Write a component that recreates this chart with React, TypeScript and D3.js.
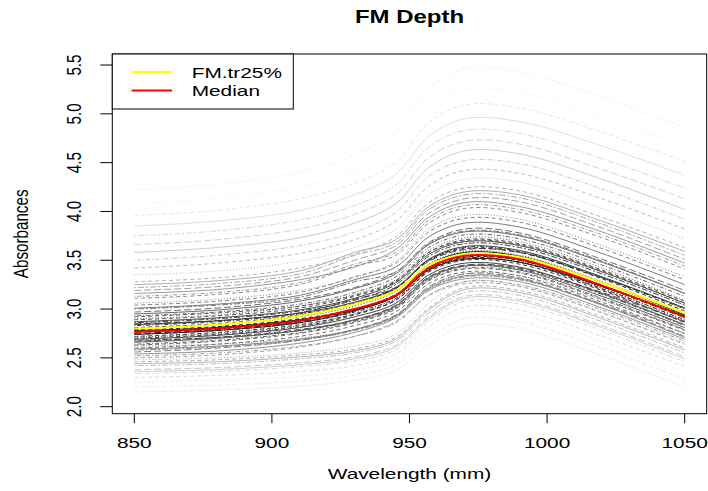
import React from 'react';
import * as d3 from 'd3';

// Wavelengths (nm) at which each absorbance curve was read
const wavelengths = [850, 880, 910, 930, 945, 957, 970, 990, 1020, 1050];

// Absorbance curves
const absorbanceCurves: number[][] = [
  [2.15, 2.17, 2.21, 2.27, 2.37, 2.64, 2.83, 2.80, 2.52, 2.20],
  [2.20, 2.22, 2.26, 2.32, 2.43, 2.70, 2.90, 2.87, 2.60, 2.28],
  [2.25, 2.27, 2.31, 2.37, 2.49, 2.77, 2.97, 2.94, 2.67, 2.35],
  [2.30, 2.32, 2.36, 2.42, 2.54, 2.82, 3.02, 2.99, 2.72, 2.41],
  [2.34, 2.36, 2.41, 2.47, 2.58, 2.87, 3.08, 3.05, 2.78, 2.46],
  [2.36, 2.38, 2.43, 2.49, 2.61, 2.90, 3.11, 3.08, 2.81, 2.49],
  [2.38, 2.40, 2.45, 2.51, 2.63, 2.92, 3.13, 3.10, 2.83, 2.51],
  [2.42, 2.44, 2.49, 2.55, 2.67, 2.96, 3.17, 3.14, 2.87, 2.55],
  [2.44, 2.46, 2.51, 2.57, 2.69, 2.99, 3.20, 3.17, 2.90, 2.58],
  [2.46, 2.48, 2.53, 2.59, 2.71, 3.01, 3.22, 3.19, 2.92, 2.60],
  [2.48, 2.50, 2.55, 2.62, 2.74, 3.06, 3.28, 3.24, 2.97, 2.65],
  [2.50, 2.53, 2.61, 2.72, 2.87, 3.14, 3.26, 3.23, 2.96, 2.64],
  [2.52, 2.55, 2.62, 2.72, 2.86, 3.14, 3.28, 3.25, 2.99, 2.67],
  [2.54, 2.57, 2.65, 2.76, 2.91, 3.19, 3.31, 3.28, 3.01, 2.69],
  [2.56, 2.60, 2.68, 2.79, 2.94, 3.23, 3.36, 3.32, 3.05, 2.72],
  [2.58, 2.61, 2.68, 2.78, 2.92, 3.20, 3.33, 3.30, 3.05, 2.75],
  [2.59, 2.62, 2.69, 2.79, 2.93, 3.21, 3.34, 3.31, 3.04, 2.71],
  [2.60, 2.64, 2.72, 2.83, 2.97, 3.26, 3.38, 3.34, 3.07, 2.75],
  [2.62, 2.64, 2.70, 2.79, 2.93, 3.22, 3.36, 3.34, 3.09, 2.79],
  [2.63, 2.67, 2.75, 2.86, 3.00, 3.29, 3.41, 3.37, 3.10, 2.78],
  [2.64, 2.68, 2.76, 2.87, 3.01, 3.30, 3.42, 3.38, 3.11, 2.79],
  [2.66, 2.70, 2.78, 2.89, 3.03, 3.32, 3.44, 3.40, 3.13, 2.81],
  [2.67, 2.71, 2.79, 2.89, 3.04, 3.33, 3.45, 3.42, 3.17, 2.87],
  [2.68, 2.71, 2.78, 2.88, 3.02, 3.31, 3.44, 3.41, 3.15, 2.83],
  [2.69, 2.73, 2.81, 2.92, 3.06, 3.35, 3.47, 3.43, 3.16, 2.84],
  [2.70, 2.74, 2.82, 2.94, 3.09, 3.39, 3.52, 3.48, 3.20, 2.86],
  [2.71, 2.75, 2.83, 2.95, 3.10, 3.41, 3.54, 3.50, 3.22, 2.88],
  [2.72, 2.76, 2.84, 2.95, 3.09, 3.38, 3.50, 3.46, 3.19, 2.87],
  [2.74, 2.78, 2.86, 2.97, 3.11, 3.40, 3.52, 3.48, 3.21, 2.89],
  [2.74, 2.78, 2.86, 2.98, 3.14, 3.45, 3.58, 3.54, 3.27, 2.94],
  [2.75, 2.79, 2.87, 2.99, 3.13, 3.42, 3.54, 3.50, 3.23, 2.91],
  [2.77, 2.81, 2.89, 3.00, 3.14, 3.43, 3.55, 3.51, 3.24, 2.92],
  [2.78, 2.81, 2.89, 2.99, 3.13, 3.40, 3.51, 3.48, 3.23, 2.93],
  [2.79, 2.82, 2.90, 3.00, 3.15, 3.41, 3.53, 3.50, 3.24, 2.93],
  [2.80, 2.84, 2.92, 3.03, 3.18, 3.46, 3.59, 3.55, 3.28, 2.96],
  [2.81, 2.85, 2.94, 3.06, 3.21, 3.50, 3.62, 3.58, 3.31, 2.98],
  [2.83, 2.87, 2.95, 3.06, 3.21, 3.50, 3.63, 3.59, 3.32, 3.00],
  [2.84, 2.88, 2.96, 3.07, 3.22, 3.51, 3.64, 3.60, 3.33, 3.01],
  [2.85, 2.88, 2.96, 3.10, 3.22, 3.49, 3.61, 3.58, 3.32, 3.01],
  [2.86, 2.90, 2.98, 3.09, 3.25, 3.54, 3.67, 3.63, 3.36, 3.04],
  [2.87, 2.91, 2.99, 3.11, 3.27, 3.56, 3.69, 3.65, 3.38, 3.06],
  [2.89, 2.93, 3.01, 3.13, 3.28, 3.58, 3.71, 3.67, 3.40, 3.08],
  [2.90, 2.94, 3.03, 3.15, 3.30, 3.60, 3.73, 3.69, 3.42, 3.09],
  [2.92, 2.96, 3.03, 3.14, 3.29, 3.58, 3.70, 3.66, 3.39, 3.06],
  [2.93, 2.97, 3.05, 3.17, 3.33, 3.63, 3.76, 3.72, 3.45, 3.13],
  [2.95, 2.99, 3.08, 3.21, 3.36, 3.66, 3.79, 3.75, 3.48, 3.16],
  [2.97, 3.01, 3.10, 3.22, 3.38, 3.68, 3.82, 3.78, 3.51, 3.19],
  [3.00, 3.04, 3.12, 3.28, 3.38, 3.67, 3.80, 3.76, 3.49, 3.16],
  [3.01, 3.05, 3.14, 3.30, 3.43, 3.74, 3.88, 3.84, 3.57, 3.25],
  [3.04, 3.08, 3.17, 3.33, 3.47, 3.79, 3.93, 3.89, 3.62, 3.30],
  [3.06, 3.10, 3.19, 3.32, 3.49, 3.82, 3.96, 3.92, 3.65, 3.33],
  [3.11, 3.15, 3.25, 3.44, 3.55, 3.88, 4.03, 3.99, 3.73, 3.41],
  [3.13, 3.17, 3.27, 3.46, 3.58, 3.91, 4.06, 4.02, 3.76, 3.44],
  [3.16, 3.20, 3.30, 3.43, 3.61, 3.94, 4.09, 4.05, 3.79, 3.47],
  [3.19, 3.23, 3.33, 3.50, 3.65, 3.98, 4.13, 4.10, 3.83, 3.51],
  [3.22, 3.26, 3.36, 3.55, 3.68, 4.02, 4.17, 4.14, 3.87, 3.55],
  [3.25, 3.29, 3.39, 3.58, 3.71, 4.05, 4.20, 4.17, 3.90, 3.59],
  [3.28, 3.32, 3.42, 3.56, 3.74, 4.09, 4.24, 4.21, 3.94, 3.63],
  [3.35, 3.39, 3.49, 3.63, 3.82, 4.17, 4.33, 4.30, 4.03, 3.72],
  [3.42, 3.47, 3.57, 3.71, 3.90, 4.26, 4.42, 4.39, 4.13, 3.82],
  [3.50, 3.55, 3.65, 3.79, 3.99, 4.36, 4.52, 4.49, 4.23, 3.92],
  [3.58, 3.63, 3.73, 3.88, 4.08, 4.45, 4.62, 4.59, 4.33, 4.02],
  [3.66, 3.71, 3.82, 3.97, 4.17, 4.55, 4.72, 4.69, 4.43, 4.13],
  [3.75, 3.80, 3.91, 4.06, 4.27, 4.66, 4.83, 4.80, 4.54, 4.24],
  [3.85, 3.90, 4.01, 4.17, 4.38, 4.77, 4.95, 4.92, 4.67, 4.37],
  [3.96, 4.01, 4.13, 4.29, 4.50, 4.91, 5.09, 5.06, 4.81, 4.51],
  [4.08, 4.13, 4.25, 4.42, 4.64, 5.06, 5.25, 5.22, 4.97, 4.67],
  [4.22, 4.28, 4.40, 4.58, 4.82, 5.26, 5.46, 5.43, 5.17, 4.86],
];

const trimmedMean25 = [2.80, 2.84, 2.93, 3.05, 3.19, 3.45, 3.56, 3.53, 3.27, 2.96];
const medianCurve = [2.765, 2.80, 2.88, 3.00, 3.14, 3.42, 3.545, 3.51, 3.24, 2.92];

const xTicks = [850, 900, 950, 1000, 1050];
const yTicks = [2.0, 2.5, 3.0, 3.5, 4.0, 4.5, 5.0, 5.5];
const legendLabels = ['FM.tr25%', 'Median'];
const legendColors = ['#ffff00', '#ff0000'];

const SX = 1.37;
const FONT = "'Liberation Sans', Arial, Helvetica, sans-serif";
const DASHES = ['', '4,3', '1,2', '4,3', '1,2,4,2', '', '7,3', '2,2,6,2'];

function Txt(props: { x: number; y: number; rot?: boolean; anchor?: string; size: number; weight?: string; children: React.ReactNode }) {
  const { x, y, rot, anchor = 'middle', size, weight = 'normal', children } = props;
  return (
    <text
      transform={`translate(${x},${y}) scale(${SX},1)${rot ? ' rotate(-90)' : ''}`}
      textAnchor={anchor}
      fontSize={size}
      fontWeight={weight}
      fontFamily={FONT}
      fill="#000"
    >
      {children}
    </text>
  );
}

export default function App() {
  const left = 112.3, right = 706.7, top = 54, bottom = 413.7;
  const x = d3.scaleLinear().domain([842, 1058]).range([left, right]);
  const y = d3.scaleLinear().domain([1.928, 5.613]).range([bottom, top]);
  const line = d3
    .line<number>()
    .x((_, i) => x(wavelengths[i]))
    .y((d) => y(d))
    .curve(d3.curveCatmullRom.alpha(0.5));

  const n = absorbanceCurves.length;
  const means = absorbanceCurves.map((c) => d3.mean(c) as number);
  const sortedIdx = d3.range(n).sort((a, b) => means[a] - means[b]);
  const rank: number[] = new Array(n);
  sortedIdx.forEach((idx, r) => (rank[idx] = r));
  const mid = sortedIdx.indexOf(31);
  const depth = rank.map((r) => (r <= mid ? r / mid : (n - 1 - r) / (n - 1 - mid)));
  const drawOrder = d3.range(n).sort((a, b) => depth[a] - depth[b]);

  return (
    <div style={{ position: 'absolute', left: 0, top: 0 }}>
      <svg width={708} height={491} style={{ display: 'block', background: '#fff' }}>
        <rect x={0} y={0} width={708} height={491} fill="#fff" />
        {drawOrder.map((i) => {
          const g = Math.round(255 * (0.95 - 0.88 * depth[i]));
          return (
            <path
              key={i}
              d={line(absorbanceCurves[i]) || ''}
              fill="none"
              stroke={`rgb(${g},${g},${g})`}
              strokeWidth={1}
              strokeDasharray={DASHES[i % DASHES.length]}
            />
          );
        })}
        <path d={line(trimmedMean25) || ''} fill="none" stroke={legendColors[0]} strokeWidth={2} />
        <path d={line(medianCurve) || ''} fill="none" stroke={legendColors[1]} strokeWidth={2} />

        {/* box */}
        <rect x={left} y={top} width={right - left} height={bottom - top} fill="none" stroke="#000" strokeWidth={1} />

        {/* x axis */}
        {xTicks.map((t) => (
          <g key={t}>
            <line x1={x(t)} x2={x(t)} y1={bottom} y2={bottom + 9.5} stroke="#000" />
            <Txt x={x(t)} y={447.5} size={15.2}>{String(t)}</Txt>
          </g>
        ))}
        {/* y axis */}
        {yTicks.map((t) => (
          <g key={t}>
            <line x1={left - 12} x2={left} y1={y(t)} y2={y(t)} stroke="#000" />
            <Txt x={81} y={y(t)} rot size={15.2}>{t.toFixed(1)}</Txt>
          </g>
        ))}

        {/* legend */}
        <rect x={left} y={top} width={181} height={55} fill="#fff" stroke="#000" strokeWidth={1} />
        {legendLabels.map((lab, i) => (
          <g key={lab}>
            <line x1={131.7} x2={172} y1={72 + i * 18.5} y2={72 + i * 18.5} stroke={legendColors[i]} strokeWidth={2} />
            <Txt x={191.7} y={77.5 + i * 18.5} anchor="start" size={15.2}>{lab}</Txt>
          </g>
        ))}

        {/* titles */}
        <Txt x={(left + right) / 2} y={23} size={17.5} weight="bold">FM Depth</Txt>
        <Txt x={(left + right) / 2} y={479} size={15.2}>Wavelength (mm)</Txt>
        <Txt x={27.5} y={(top + bottom) / 2} rot size={15.2}>Absorbances</Txt>
      </svg>
    </div>
  );
}
